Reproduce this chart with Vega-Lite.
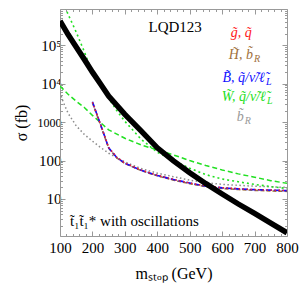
{
  "$schema": "https://vega.github.io/schema/vega-lite/v6.json",
  "width": 227,
  "height": 227,
  "autosize": {"type": "none"},
  "padding": {"left": 60, "top": 9, "right": 13, "bottom": 48},
  "background": "white",
  "config": {"view": {"stroke": null}, "font": "Liberation Serif", "axis": {"grid": false}},
  "datasets": {
    "curves": [
      {"k":"stop","m":100,"s":430000},{"k":"stop","m":125,"s":190000},{"k":"stop","m":150,"s":90000},{"k":"stop","m":175,"s":43000},{"k":"stop","m":200,"s":20000},{"k":"stop","m":225,"s":9800},{"k":"stop","m":250,"s":4800},{"k":"stop","m":300,"s":1600},{"k":"stop","m":350,"s":590},{"k":"stop","m":400,"s":215},{"k":"stop","m":450,"s":98},{"k":"stop","m":500,"s":48},{"k":"stop","m":550,"s":25},{"k":"stop","m":600,"s":13.5},{"k":"stop","m":650,"s":7.4},{"k":"stop","m":700,"s":4.2},{"k":"stop","m":750,"s":2.35},{"k":"stop","m":800,"s":1.32},
      {"k":"gray","m":100,"s":6000},{"k":"gray","m":110,"s":3300},{"k":"gray","m":125,"s":1700},{"k":"gray","m":150,"s":800},{"k":"gray","m":175,"s":480},{"k":"gray","m":200,"s":320},{"k":"gray","m":225,"s":220},{"k":"gray","m":250,"s":155},{"k":"gray","m":300,"s":92},{"k":"gray","m":350,"s":62},{"k":"gray","m":400,"s":47},{"k":"gray","m":450,"s":38},{"k":"gray","m":500,"s":31},{"k":"gray","m":550,"s":26.5},{"k":"gray","m":600,"s":24},{"k":"gray","m":700,"s":21.5},{"k":"gray","m":800,"s":20},
      {"k":"gdash","m":100,"s":8700},{"k":"gdash","m":125,"s":5300},{"k":"gdash","m":150,"s":3500},{"k":"gdash","m":175,"s":2400},{"k":"gdash","m":200,"s":1500},{"k":"gdash","m":250,"s":630},{"k":"gdash","m":300,"s":380},{"k":"gdash","m":350,"s":255},{"k":"gdash","m":400,"s":190},{"k":"gdash","m":450,"s":140},{"k":"gdash","m":500,"s":100},{"k":"gdash","m":550,"s":74},{"k":"gdash","m":600,"s":57},{"k":"gdash","m":650,"s":45},{"k":"gdash","m":700,"s":37},{"k":"gdash","m":750,"s":30},{"k":"gdash","m":800,"s":25.5},
      {"k":"gdot","m":110,"s":1300000},{"k":"gdot","m":125,"s":640000},{"k":"gdot","m":150,"s":220000},{"k":"gdot","m":175,"s":68000},{"k":"gdot","m":200,"s":19000},{"k":"gdot","m":225,"s":8700},{"k":"gdot","m":250,"s":4200},{"k":"gdot","m":275,"s":2000},{"k":"gdot","m":300,"s":1050},{"k":"gdot","m":350,"s":360},{"k":"gdot","m":400,"s":165},{"k":"gdot","m":450,"s":100},{"k":"gdot","m":500,"s":63},{"k":"gdot","m":550,"s":43},{"k":"gdot","m":600,"s":33},{"k":"gdot","m":650,"s":28},{"k":"gdot","m":700,"s":24},{"k":"gdot","m":750,"s":21},{"k":"gdot","m":800,"s":18.7},
      {"k":"brown","m":200,"s":3200},{"k":"brown","m":225,"s":850},{"k":"brown","m":250,"s":210},{"k":"brown","m":275,"s":118},{"k":"brown","m":300,"s":84},{"k":"brown","m":350,"s":55},{"k":"brown","m":400,"s":40},{"k":"brown","m":450,"s":31},{"k":"brown","m":500,"s":25},{"k":"brown","m":550,"s":21},{"k":"brown","m":600,"s":18.8},{"k":"brown","m":650,"s":17.6},{"k":"brown","m":700,"s":16.8},{"k":"brown","m":750,"s":16.2},{"k":"brown","m":800,"s":15.8},
      {"k":"blue","m":200,"s":3400},{"k":"blue","m":225,"s":870},{"k":"blue","m":250,"s":215},{"k":"blue","m":275,"s":120},{"k":"blue","m":300,"s":85},{"k":"blue","m":350,"s":56},{"k":"blue","m":400,"s":41},{"k":"blue","m":450,"s":32},{"k":"blue","m":500,"s":26},{"k":"blue","m":550,"s":21.5},{"k":"blue","m":600,"s":19.5},{"k":"blue","m":650,"s":18.3},{"k":"blue","m":700,"s":17.5},{"k":"blue","m":750,"s":17},{"k":"blue","m":800,"s":16.5},
      {"k":"red","m":200,"s":3300},{"k":"red","m":225,"s":880},{"k":"red","m":250,"s":220},{"k":"red","m":275,"s":122},{"k":"red","m":300,"s":86},{"k":"red","m":350,"s":57},{"k":"red","m":400,"s":41.5},{"k":"red","m":450,"s":32.5},{"k":"red","m":500,"s":26},{"k":"red","m":550,"s":21.8},{"k":"red","m":600,"s":19.7},{"k":"red","m":650,"s":18.5},{"k":"red","m":700,"s":17.6},{"k":"red","m":750,"s":17.1},{"k":"red","m":800,"s":16.6}
    ],
    "labels": [
      {"k":"red","m":691,"s":209000,"t":"g̃, q̃","sub":""},
      {"k":"brown","m":695,"s":55800,"t":"H̃, b̃","sub":"R"},
      {"k":"blue","m":732,"s":14100,"t":"B̃, q̃/ν̃/ℓ̃","sub":"L"},
      {"k":"green","m":735,"s":4500,"t":"W̃, q̃/ν̃/ℓ̃","sub":"L"},
      {"k":"gray","m":667,"s":1360,"t":"b̃","sub":"R"}
    ],
    "notes": [
      {"m":455,"s":300000,"t":"LQD123"}
    ],
    "notes2": [
      {"m":131,"s":2.66,"t":"t̃₁t̃₁* with oscillations"}
    ]
  },
  "layer": [
    {
      "data": {"name": "curves"},
      "transform": [{"filter": "datum.k === 'gray'"}],
      "mark": {"type": "line", "color": "#8c8c8c", "strokeWidth": 1.5, "strokeDash": [1.5, 2.5], "clip": true},
      "encoding": {
        "x": {"field": "m", "type": "quantitative", "scale": {"domain": [100, 800], "nice": false, "zero": false},
          "axis": {"orient": "bottom", "values": [100,120,140,160,180,200,220,240,260,280,300,320,340,360,380,400,420,440,460,480,500,520,540,560,580,600,620,640,660,680,700,720,740,760,780,800],
            "format": "d", "labelExpr": "datum.value % 100 === 0 ? datum.label : ''",
            "tickSize": {"condition": {"test": "datum.value % 100 === 0", "value": -5}, "value": -2.5},
            "tickColor": "#999999", "domainColor": "#999999", "labelFont": "Liberation Serif", "labelFontSize": 15, "labelColor": "black",
            "labelPadding": 9, "labelOverlap": false, "labelFlush": false,
            "title": "mₛₜₒₚ (GeV)", "titleFont": "Liberation Serif", "titleFontSize": 16, "titleFontWeight": "normal", "titleColor": "black", "titlePadding": 8}},
        "y": {"field": "s", "type": "quantitative", "scale": {"type": "log", "domain": [1.088, 880000], "nice": false},
          "axis": {"orient": "left", "values": [2,3,4,5,6,7,8,9,10,20,30,40,50,60,70,80,90,100,200,300,400,500,600,700,800,900,1000,2000,3000,4000,5000,6000,7000,8000,9000,10000,20000,30000,40000,50000,60000,70000,80000,90000,100000,200000,300000,400000,500000,600000,700000,800000],
            "labelExpr": "datum.value === 10 ? '10' : datum.value === 100 ? '100' : datum.value === 1000 ? '1000' : datum.value === 10000 ? '10⁴' : datum.value === 100000 ? '10⁵' : ''",
            "tickSize": {"condition": {"test": "indexof([10,100,1000,10000,100000], datum.value) >= 0", "value": -5}, "value": -2.5},
            "tickColor": "#999999", "domainColor": "#999999", "labelFont": "Liberation Serif",
            "labelFontSize": {"condition": {"test": "datum.value === 1000", "value": 12}, "value": 15},
            "labelColor": "black", "labelPadding": 4, "labelOverlap": false, "labelFlush": false, "labelBaseline": "middle",
            "title": "σ (fb)", "titleFont": "Liberation Serif", "titleFontSize": 16, "titleFontWeight": "normal", "titleColor": "black", "titlePadding": 8}}
      }
    },
    {
      "data": {"name": "curves"},
      "transform": [{"filter": "datum.k === 'gdash'"}],
      "mark": {"type": "line", "color": "#22e022", "strokeWidth": 1.5, "strokeDash": [5, 3], "clip": true},
      "encoding": {
        "x": {"field": "m", "type": "quantitative",
          "axis": {"orient": "top", "values": [100,120,140,160,180,200,220,240,260,280,300,320,340,360,380,400,420,440,460,480,500,520,540,560,580,600,620,640,660,680,700,720,740,760,780,800],
            "labels": false, "title": null,
            "tickSize": {"condition": {"test": "datum.value % 100 === 0", "value": -5}, "value": -2.5},
            "tickColor": "#999999", "domainColor": "#999999"}},
        "y": {"field": "s", "type": "quantitative",
          "axis": {"orient": "right", "values": [2,3,4,5,6,7,8,9,10,20,30,40,50,60,70,80,90,100,200,300,400,500,600,700,800,900,1000,2000,3000,4000,5000,6000,7000,8000,9000,10000,20000,30000,40000,50000,60000,70000,80000,90000,100000,200000,300000,400000,500000,600000,700000,800000],
            "labels": false, "title": null,
            "tickSize": {"condition": {"test": "indexof([10,100,1000,10000,100000], datum.value) >= 0", "value": -5}, "value": -2.5},
            "tickColor": "#999999", "domainColor": "#999999"}}
      }
    },
    {
      "data": {"name": "curves"},
      "transform": [{"filter": "datum.k === 'gdot'"}],
      "mark": {"type": "line", "color": "#22e022", "strokeWidth": 1.6, "strokeDash": [2, 3], "clip": true},
      "encoding": {"x": {"field": "m", "type": "quantitative", "axis": null}, "y": {"field": "s", "type": "quantitative", "axis": null}}
    },
    {
      "data": {"name": "curves"},
      "transform": [{"filter": "datum.k === 'brown'"}],
      "mark": {"type": "line", "color": "#a0703c", "strokeWidth": 1.6, "strokeDash": [4, 2], "clip": true},
      "encoding": {"x": {"field": "m", "type": "quantitative", "axis": null}, "y": {"field": "s", "type": "quantitative", "axis": null}}
    },
    {
      "data": {"name": "curves"},
      "transform": [{"filter": "datum.k === 'blue'"}],
      "mark": {"type": "line", "color": "#1010ff", "strokeWidth": 1.6, "strokeDash": [6, 2], "clip": true},
      "encoding": {"x": {"field": "m", "type": "quantitative", "axis": null}, "y": {"field": "s", "type": "quantitative", "axis": null}}
    },
    {
      "data": {"name": "curves"},
      "transform": [{"filter": "datum.k === 'red'"}],
      "mark": {"type": "line", "color": "#ff2020", "strokeWidth": 1.4, "strokeDash": [1.5, 2.5], "clip": true},
      "encoding": {"x": {"field": "m", "type": "quantitative", "axis": null}, "y": {"field": "s", "type": "quantitative", "axis": null}}
    },
    {
      "data": {"name": "curves"},
      "transform": [{"filter": "datum.k === 'stop'"}],
      "mark": {"type": "line", "color": "black", "strokeWidth": 5.5, "clip": true},
      "encoding": {"x": {"field": "m", "type": "quantitative", "axis": null}, "y": {"field": "s", "type": "quantitative", "axis": null}}
    },
    {
      "data": {"name": "labels"},
      "mark": {"type": "text", "align": "right", "baseline": "middle", "font": "Liberation Serif", "fontSize": 14, "fontStyle": "italic"},
      "encoding": {
        "x": {"field": "m", "type": "quantitative", "axis": null},
        "y": {"field": "s", "type": "quantitative", "axis": null},
        "text": {"field": "t"},
        "color": {"field": "k", "type": "nominal", "legend": null,
          "scale": {"domain": ["red", "brown", "blue", "green", "gray"], "range": ["#ff2020", "#a0703c", "#1010ff", "#22e022", "#999999"]}}
      }
    },
    {
      "data": {"name": "labels"},
      "transform": [{"filter": "datum.sub !== ''"}],
      "mark": {"type": "text", "align": "left", "baseline": "middle", "dy": 4, "dx": 1, "font": "Liberation Serif", "fontSize": 10, "fontStyle": "italic"},
      "encoding": {
        "x": {"field": "m", "type": "quantitative", "axis": null},
        "y": {"field": "s", "type": "quantitative", "axis": null},
        "text": {"field": "sub"},
        "color": {"field": "k", "type": "nominal", "legend": null}
      }
    },
    {
      "data": {"name": "notes"},
      "mark": {"type": "text", "align": "center", "baseline": "middle", "font": "Liberation Serif", "fontSize": 15, "color": "black"},
      "encoding": {"x": {"field": "m", "type": "quantitative", "axis": null}, "y": {"field": "s", "type": "quantitative", "axis": null}, "text": {"field": "t"}}
    },
    {
      "data": {"name": "notes2"},
      "mark": {"type": "text", "align": "left", "baseline": "middle", "font": "Liberation Serif", "fontSize": 15, "color": "black"},
      "encoding": {"x": {"field": "m", "type": "quantitative", "axis": null}, "y": {"field": "s", "type": "quantitative", "axis": null}, "text": {"field": "t"}}
    }
  ]
}
